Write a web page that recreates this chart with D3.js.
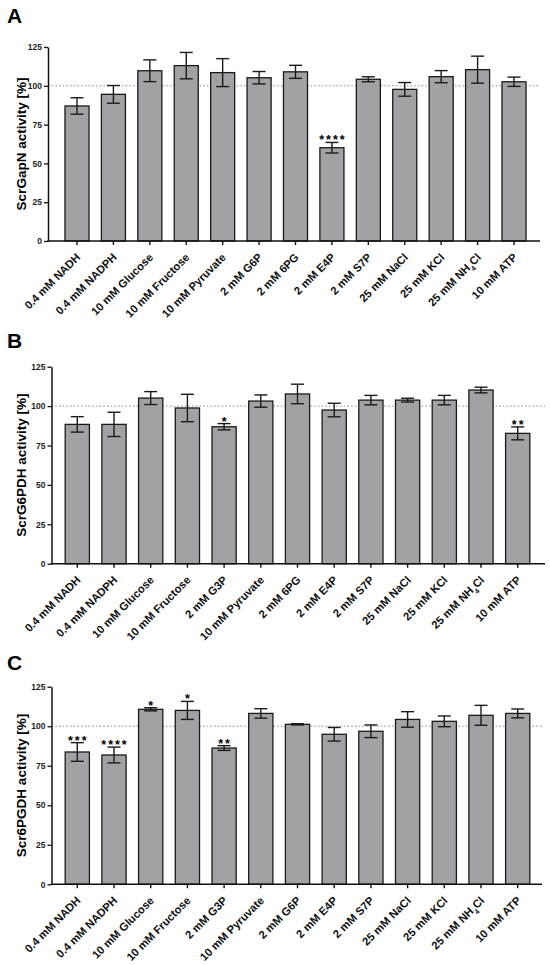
<!DOCTYPE html>
<html>
<head>
<meta charset="utf-8">
<script src="https://cdn.jsdelivr.net/npm/d3@7"></script>
<style>
body { margin: 0; background: #fff; }
svg { display: block; font-family: "Liberation Sans", Arial, sans-serif; }
</style>
</head>
<body>
<div id="chart"></div>
<script>
// categories per panel
var catsA = ['0.4 mM NADH', '0.4 mM NADPH', '10 mM Glucose', '10 mM Fructose', '10 mM Pyruvate', '2 mM G6P', '2 mM 6PG', '2 mM E4P', '2 mM S7P', '25 mM NaCl', '25 mM KCl', '25 mM NH4Cl', '10 mM ATP']
var catsB = ['0.4 mM NADH', '0.4 mM NADPH', '10 mM Glucose', '10 mM Fructose', '2 mM G3P', '10 mM Pyruvate', '2 mM 6PG', '2 mM E4P', '2 mM S7P', '25 mM NaCl', '25 mM KCl', '25 mM NH4Cl', '10 mM ATP']
var catsC = ['0.4 mM NADH', '0.4 mM NADPH', '10 mM Glucose', '10 mM Fructose', '2 mM G3P', '10 mM Pyruvate', '2 mM G6P', '2 mM E4P', '2 mM S7P', '25 mM NaCl', '25 mM KCl', '25 mM NH4Cl', '10 mM ATP']

// mean activity [%] and error
var meanA = [87, 94.5, 109.7, 113, 108.5, 105.2, 109, 60.1, 104.2, 97.7, 105.9, 110.4, 102.6]
var errA = [5.3, 5.7, 7, 8.5, 9, 4, 4.2, 3.4, 1.6, 4.4, 3.9, 8.7, 3]
var sigA = ['', '', '', '', '', '', '', '****', '', '', '', '', '']

var meanB = [88.4, 88.4, 105.1, 98.8, 86.9, 103.2, 107.7, 97.5, 103.8, 103.8, 103.8, 110.2, 82.7]
var errB = [4.9, 7.7, 4.1, 8.7, 2, 3.9, 6.2, 4.3, 3, 1.2, 3, 1.8, 4.1]
var sigB = ['', '', '', '', '*', '', '', '', '', '', '', '', '**']

var meanC = [83.7, 81.8, 110.7, 110, 86.2, 108.1, 101.2, 94.9, 96.8, 104.3, 103.1, 106.9, 108.1]
var errC = [5.9, 5, 1, 5.7, 1.5, 3, 0.4, 4.3, 4, 4.9, 3.4, 6.3, 2.8]
var sigC = ['***', '****', '*', '*', '**', '', '', '', '', '', '', '', '']

var yTicks = [0, 25, 50, 75, 100, 125]

var svg = d3.select('#chart').append('svg')
	.attr('width', 550).attr('height', 965)

var drawPanel = function(p) {
	var g = svg.append('g')
	var n = p.cats.length
	var step = (p.lastX - p.firstX) / (n - 1)
	var x = d3.scaleBand().domain(p.cats)
		.range([p.firstX - step / 2, p.lastX + step / 2])
		.paddingInner(0.34).paddingOuter(0.17)
	var y = d3.scaleLinear().domain([0, 125]).range([p.bottom, p.top])
	var rows = p.cats.map(function(c, i) { return {cat: c, mean: p.mean[i], err: p.err[i], sig: p.sig[i]} })

	// panel letter
	g.append('text').attr('x', 7).attr('y', p.letterY)
		.style('font-size', '21px').style('font-weight', 'bold').text(p.letter)

	// y label
	g.append('text')
		.attr('transform', 'translate(' + p.labelX + ',' + (p.top + p.bottom) / 2 + ') rotate(-90)')
		.attr('text-anchor', 'middle').attr('dy', '0.35em')
		.style('font-size', '13.5px').style('font-weight', 'bold')
		.text(p.ylabel)

	// dotted line at 100
	g.append('line')
		.attr('x1', p.axisX).attr('x2', p.axisEnd)
		.attr('y1', y(100)).attr('y2', y(100))
		.attr('stroke', '#8a8a8a').attr('stroke-width', 1)
		.attr('stroke-dasharray', '1.5,2.2')

	// bars
	g.selectAll('rect.bar').data(rows).enter().append('rect')
		.attr('class', 'bar')
		.attr('x', function(d) { return x(d.cat) })
		.attr('width', x.bandwidth())
		.attr('y', function(d) { return y(d.mean) })
		.attr('height', function(d) { return y(0) - y(d.mean) })
		.attr('fill', '#a2a2a6').attr('stroke', '#1a1a1a').attr('stroke-width', 1.3)

	// error bars
	var eb = g.selectAll('g.err').data(rows).enter().append('g')
		.attr('transform', function(d) { return 'translate(' + (x(d.cat) + x.bandwidth() / 2) + ',0)' })
		.attr('stroke', '#1a1a1a').attr('stroke-width', 1.4)
	eb.append('line').attr('x1', 0).attr('x2', 0)
		.attr('y1', function(d) { return y(d.mean + d.err) })
		.attr('y2', function(d) { return y(d.mean - d.err) })
	eb.append('line').attr('x1', -6.5).attr('x2', 6.5)
		.attr('y1', function(d) { return y(d.mean + d.err) })
		.attr('y2', function(d) { return y(d.mean + d.err) })
	eb.append('line').attr('x1', -6.5).attr('x2', 6.5)
		.attr('y1', function(d) { return y(d.mean - d.err) })
		.attr('y2', function(d) { return y(d.mean - d.err) })

	// significance stars
	g.selectAll('text.sig').data(rows.filter(function(d) { return d.sig })).enter().append('text')
		.attr('class', 'sig')
		.attr('x', function(d) { return x(d.cat) + x.bandwidth() / 2 + 1 })
		.attr('y', function(d) { return y(d.mean + d.err) + 2 })
		.attr('text-anchor', 'middle')
		.style('font-size', '12.5px').style('font-weight', 'bold').style('letter-spacing', '2px')
		.text(function(d) { return d.sig })

	// y axis
	var ya = g.append('g').attr('transform', 'translate(' + p.axisX + ',0)')
		.call(d3.axisLeft(y).tickValues(yTicks).tickSize(4).tickSizeOuter(0).tickPadding(2))
	ya.select('.domain').attr('stroke', '#111').attr('stroke-width', 1.5)
	ya.selectAll('.tick line').attr('stroke', '#111').attr('stroke-width', 1.3)
	ya.selectAll('.tick text').style('font-size', '8.5px').style('font-weight', 'bold')
		.style('font-family', '"Liberation Sans", Arial, sans-serif').attr('fill', '#222')

	// x axis
	g.append('line').attr('x1', p.axisX - 0.7).attr('x2', p.axisEnd)
		.attr('y1', p.bottom).attr('y2', p.bottom)
		.attr('stroke', '#111').attr('stroke-width', 1.6)
	var xa = g.append('g').attr('transform', 'translate(0,' + p.bottom + ')')
		.call(d3.axisBottom(x).tickSize(4).tickSizeOuter(0))
	xa.select('.domain').remove()
	xa.selectAll('.tick line').attr('stroke', '#111').attr('stroke-width', 1.4)
	xa.selectAll('.tick text').remove()
	xa.selectAll('.tick').append('text')
		.attr('transform', 'translate(4,17) rotate(-45)')
		.attr('text-anchor', 'end')
		.attr('fill', '#111')
		.style('font-size', '11.2px').style('font-weight', 'bold')
		.style('font-family', '"Liberation Sans", Arial, sans-serif')
		.each(function(d) {
			var t = d3.select(this)
			var m = d.match(/^(.*NH)4(Cl)$/)
			if (m) {
				t.append('tspan').text(m[1])
				t.append('tspan').text('4').attr('baseline-shift', 'sub').style('font-size', '7px')
				t.append('tspan').text(m[2])
			} else {
				t.text(d)
			}
		})
}

drawPanel({letter: 'A', letterY: 23, ylabel: 'ScrGapN activity [%]', cats: catsA, mean: meanA, err: errA, sig: sigA,
	top: 47, bottom: 241, axisX: 48, axisEnd: 540, firstX: 77, lastX: 514, labelX: 21})
drawPanel({letter: 'B', letterY: 348, ylabel: 'ScrG6PDH activity [%]', cats: catsB, mean: meanB, err: errB, sig: sigB,
	top: 366.7, bottom: 563.7, axisX: 51.5, axisEnd: 545, firstX: 77.3, lastX: 517.7, labelX: 21.5})
drawPanel({letter: 'C', letterY: 670, ylabel: 'Scr6PGDH activity [%]', cats: catsC, mean: meanC, err: errC, sig: sigC,
	top: 686.7, bottom: 884.3, axisX: 51.5, axisEnd: 542, firstX: 77.3, lastX: 517.7, labelX: 21.5})
</script>
</body>
</html>
